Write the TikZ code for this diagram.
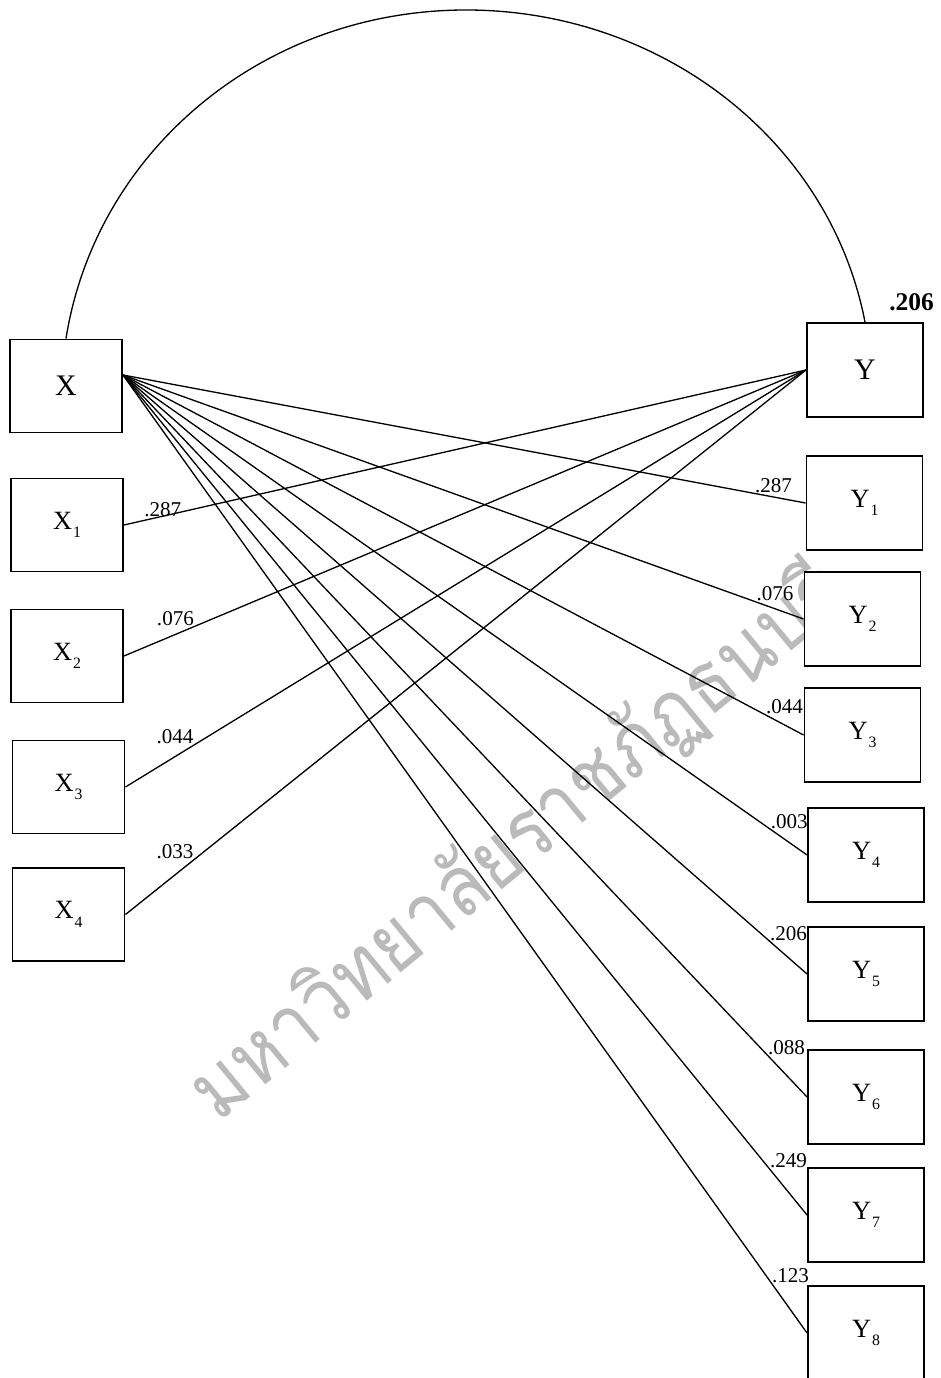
\documentclass[tikz,border=0pt]{standalone}
\usepackage{fontspec}
\setmainfont{Liberation Serif}
\newfontfamily\thaifont[Script=Thai]{Loma}
\usetikzlibrary{positioning}
\newcommand{\subidx}[1]{\kern0.5pt\raisebox{-0.32em}{\fontsize{9}{9}\selectfont #1}}

\begin{document}
\begin{tikzpicture}[
  x=0.02cm, y=-0.02cm,
  var/.style={draw, line width=1.1pt, fill=white, minimum width=2.24cm, minimum height=1.86cm, inner sep=0pt, font=\fontsize{15}{18}\selectfont},
  yvar/.style={var, minimum width=2.32cm, minimum height=1.88cm},
  big/.style={font=\fontsize{17}{20}\selectfont},
  link/.style={line width=0.75pt},
  lbl/.style={inner sep=0pt, font=\fontsize{12}{14}\selectfont},
  wmark/.style={inner sep=0pt, text=black!27, font=\thaifont\fontsize{48}{58}\selectfont},
]
  \useasboundingbox (0,0) rectangle (940,1378);
  % watermark
  \node[wmark, anchor=base west, rotate=39.5] (wm) at (218,1124) {\scalebox{0.88}[1]{มหาวิทยาลัยราชภัฏธนบุรี}};

  % left column
  \node[var, big] (X) at (66,386) {X};
  \node[var] (X1) at (67,525) {X\subidx{1}};
  \node[var] (X2) at (67,656) {X\subidx{2}};
  \node[var] (X3) at (68.5,787) {X\subidx{3}};
  \node[var] (X4) at (68.5,914.5) {X\subidx{4}};

  % right column
  \node[yvar, big] (Y) at (865,370) {Y};
  \node[yvar] (Y1) at (864.5,503) {Y\subidx{1}};
  \node[yvar] (Y2) at (862.5,619) {Y\subidx{2}};
  \node[yvar] (Y3) at (862.5,735) {Y\subidx{3}};
  \node[yvar] (Y4) at (866,855) {Y\subidx{4}};
  \node[yvar] (Y5) at (866,974) {Y\subidx{5}};
  \node[yvar] (Y6) at (866,1097) {Y\subidx{6}};
  \node[yvar] (Y7) at (866,1215) {Y\subidx{7}};
  \node[yvar] (Y8) at (866,1333) {Y\subidx{8}};
  \node[font=\bfseries\fontsize{14.5}{16}\selectfont, inner sep=0pt, anchor=south west] (r2)
    at ([xshift=-0.7cm, yshift=0.22cm]Y.north east) {.206};

  % correlation arc
  \coordinate (top) at (466,10);
  \draw[link] (X.north) .. controls (96,150) and (264,10) .. (top)
    .. controls (662,10) and (830,141) .. (Y.north);

  % X to Y_i
  \draw[link] ([yshift=0.22cm]X.east) -- node[lbl, pos=0.925, anchor=south west] {.287} (Y1.west);
  \draw[link] ([yshift=0.22cm]X.east) -- node[lbl, pos=0.93, anchor=south west] {.076} (Y2.west);
  \draw[link] ([yshift=0.22cm]X.east) -- node[lbl, pos=0.944, anchor=south west] {.044} (Y3.west);
  \draw[link] ([yshift=0.22cm]X.east) -- node[lbl, pos=0.946, anchor=south west] {.003} (Y4.west);
  \draw[link] ([yshift=0.22cm]X.east) -- node[lbl, pos=0.945, anchor=south west] {.206} (Y5.west);
  \draw[link] ([yshift=0.22cm]X.east) -- node[lbl, pos=0.942, anchor=south west] {.088} (Y6.west);
  \draw[link] ([yshift=0.22cm]X.east) -- node[lbl, pos=0.945, anchor=south west] {.249} (Y7.west);
  \draw[link] ([yshift=0.22cm]X.east) -- node[lbl, pos=0.948, anchor=south west] {.123} (Y8.west);

  % X_i to Y
  \draw[link] (X1.east) -- node[lbl, pos=0.085, anchor=south east, yshift=-3pt] {.287} (Y.west);
  \draw[link] (X2.east) -- node[lbl, pos=0.1035, anchor=south east] {.076} (Y.west);
  \draw[link] (X3.east) -- node[lbl, pos=0.101, anchor=south east] {.044} (Y.west);
  \draw[link] (X4.east) -- node[lbl, pos=0.101, anchor=south east] {.033} (Y.west);
\end{tikzpicture}
\end{document}
